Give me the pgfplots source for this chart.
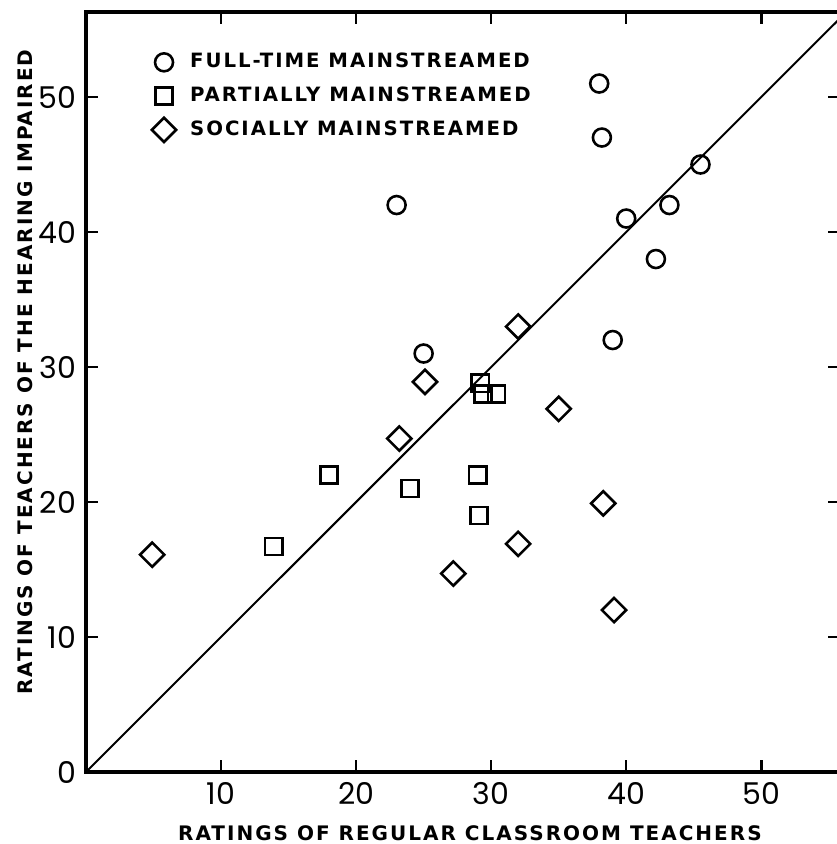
\documentclass[border=0pt]{standalone}
\usepackage{pgfplots}
\pgfplotsset{compat=1.18}
\usepackage{fontspec}
\setmainfont{Liberation Sans}
\newfontfamily\labfont[LetterSpace=10]{DejaVu Sans}
\newfontfamily\tickfont{Poppins}

\begin{document}
\begin{tikzpicture}
\begin{axis}[
    name=ax,
    scale only axis,
    width=264pt, height=266pt,
    xmin=0, xmax=55.85,
    ymin=0, ymax=56.3,
    xtick={10,20,...,50},
    ytick={0,10,...,50},
    tick align=inside,
    major tick length=4.2pt,
    axis line style={line width=1.4pt},
    every tick/.style={black, line width=0.9pt},
    /pgf/number format/assume math mode=true,
    ticklabel style={font=\tickfont\fontsize{10.5}{12}\selectfont},
    xlabel={RATINGS OF REGULAR CLASSROOM TEACHERS},
    ylabel={RATINGS OF TEACHERS OF THE HEARING IMPAIRED},
    label style={font=\labfont\bfseries\fontsize{7}{8}\selectfont},
    xlabel style={at={(axis description cs:0.509,-0.08)}, anchor=center},
    ylabel style={at={(axis description cs:-0.081,0.526)}, anchor=center},
    legend style={draw=none, fill=none, at={(axis description cs:0.0573,0.962)},
        anchor=north west, font=\labfont\bfseries\fontsize{6.9}{8}\selectfont,
        row sep=1.2pt},
    legend cell align=left,
    legend image code/.code={
        \path (0cm,0cm) (0.535cm,0cm);
        \draw[#1] plot coordinates {(0.3cm,0cm)};
    },
]

% diagonal y = x
\addplot[black, line width=0.7pt, forget plot] coordinates {(0,0) (57,57)};

% full-time mainstreamed
\addplot[only marks, mark=o, mark size=3.15pt, line width=0.9pt, black] coordinates {
    (23,42) (38,51) (38.2,47) (45.5,45) (40,41) (43.2,42)
    (42.2,38) (39,32) (25,31)
};
\addlegendentry{FULL-TIME MAINSTREAMED}

% partially mainstreamed
\addplot[only marks, mark=square, mark size=3pt, line width=0.9pt, black] coordinates {
    (18,22) (13.9,16.7) (24,21) (29,22) (29.1,19)
    (29.2,28.8) (29.4,28) (30.4,28)
};
\addlegendentry{PARTIALLY MAINSTREAMED}

% socially mainstreamed
\addplot[only marks, mark=square, mark size=3pt, line width=0.9pt, black,
    mark options={rotate=45}] coordinates {
    (4.9,16.1) (32,33) (25.1,28.9) (23.2,24.7) (35,26.9)
    (38.3,19.9) (32,16.9) (27.2,14.7) (39.1,12)
};
\addlegendentry{SOCIALLY MAINSTREAMED}

\end{axis}
\pgfresetboundingbox
\path[use as bounding box] ([xshift=-30.1pt,yshift=-25.2pt]ax.south west)
    rectangle ([xshift=-1.4pt,yshift=4.2pt]ax.north east);
\end{tikzpicture}
\end{document}
